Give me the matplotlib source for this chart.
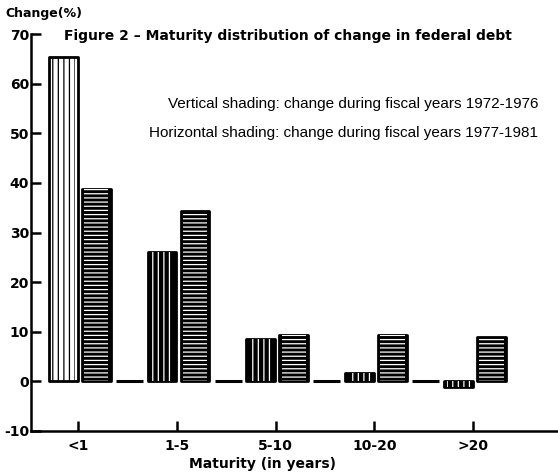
import numpy as np
import matplotlib.pyplot as plt

plt.rcParams['hatch.linewidth'] = 0.9
plt.rcParams['axes.unicode_minus'] = False

# --- data ---
maturity = ["<1", "1-5", "5-10", "10-20", ">20"]
change_7276 = [65.3, 26.0, 8.5, 1.6, -1.2]   # vertical shading
change_7781 = [38.7, 34.3, 9.3, 9.3, 8.9]    # horizontal shading
spacer = [0, 0, 0, 0]                         # flat separators between groups

# per-bar looks of the scan
vert_face = ["white", "black", "black", "black", "black"]

fig = plt.figure(figsize=(5.58, 4.72), dpi=100)
ax = fig.add_axes([31 / 558, 41 / 472, 527 / 558, 397 / 472])

x = np.arange(len(maturity))
w = 0.29

for i, v in enumerate(change_7276):
    fc = vert_face[i]
    hc = "black" if fc == "white" else "white"
    ax.bar(x[i] - 0.15, v, w, color=fc, edgecolor="black", lw=2, joinstyle="round")
    ax.bar(x[i] - 0.15, v, w * 0.8, color="none", edgecolor=hc, lw=0, hatch="|||")

ax.bar(x + 0.185, change_7781, w, color="black", edgecolor="black", lw=2, joinstyle="round")
ax.bar(x + 0.185, change_7781, w * 0.85, color="none", edgecolor="white", lw=0, hatch="----")

ax.bar(x[:len(spacer)] + 0.52, spacer, w * 0.95, color="black", edgecolor="black", lw=2.2)

ax.set_xlim(-0.476, 4.86)
ax.set_ylim(-10, 70)
ax.set_yticks(range(-10, 71, 10))
ax.set_xticks(x)
ax.set_xticklabels(maturity)

for s in ["top", "right"]:
    ax.spines[s].set_visible(False)
for s in ["left", "bottom"]:
    ax.spines[s].set_linewidth(1.8)

ax.tick_params(axis="both", direction="in", length=7, width=1.8, labelsize=10)
ax.tick_params(axis="y", pad=1.5)
ax.tick_params(axis="x", pad=6)
for lab in ax.get_xticklabels() + ax.get_yticklabels():
    lab.set_fontweight("bold")

ax.set_xlabel("Maturity (in years)", fontsize=10, fontweight="bold")
ax.xaxis.set_label_coords(0.44, -0.065)

fig.text(5 / 558, 1 - 14 / 472, "Change(%)", fontsize=9, fontweight="bold", va="center")
fig.text(64 / 558, 1 - 36 / 472, "Figure 2 \u2013 Maturity distribution of change in federal debt",
         fontsize=10, fontweight="bold", va="center")
fig.text(538 / 558, 1 - 104 / 472, "Vertical shading: change during fiscal years 1972-1976",
         fontsize=11, family="Liberation Sans", ha="right", va="center")
fig.text(538 / 558, 1 - 133 / 472, "Horizontal shading: change during fiscal years 1977-1981",
         fontsize=11, family="Liberation Sans", ha="right", va="center")

fig.savefig("out.png", dpi=100)
